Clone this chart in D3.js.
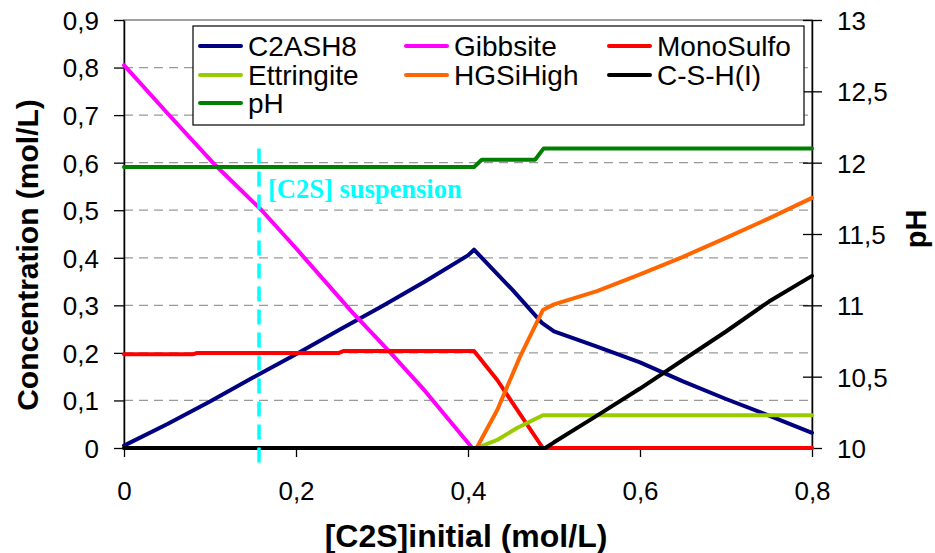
<!DOCTYPE html>
<html><head><meta charset="utf-8">
<script src="https://cdn.jsdelivr.net/npm/d3@7"></script>
<style>
body{margin:0;background:#fff}
text{font-family:"Liberation Sans",Arial,sans-serif}
</style></head>
<body><svg id="c" width="935" height="553"></svg>
<script>
// ---- data ----
const c2ashX = [0,0.05,0.1,0.15,0.2,0.25,0.3,0.35,0.4,0.407,0.452,0.486,0.5,0.55,0.6,0.65,0.7,0.75,0.8];
const c2ashY = [0.005,0.05,0.098,0.148,0.197,0.248,0.298,0.35,0.405,0.417,0.332,0.263,0.245,0.213,0.18,0.14,0.103,0.068,0.032];
const gibbX = [0,0.05,0.106,0.16,0.2,0.266,0.306,0.35,0.405,0.8];
const gibbY = [0.805,0.705,0.595,0.5,0.42,0.284,0.208,0.12,0,0];
const monoX = [0,0.08,0.085,0.25,0.255,0.407,0.434,0.487,0.8];
const monoY = [0.197,0.197,0.2,0.2,0.204,0.204,0.143,0,0];
const ettrX = [0,0.41,0.434,0.457,0.487,0.8];
const ettrY = [0,0,0.017,0.042,0.069,0.069];
const hgsX = [0,0.41,0.434,0.46,0.487,0.5,0.55,0.6,0.65,0.7,0.75,0.8];
const hgsY = [0,0,0.08,0.19,0.29,0.302,0.33,0.365,0.402,0.442,0.483,0.526];
const cshX = [0,0.49,0.5,0.55,0.6,0.65,0.7,0.75,0.8];
const cshY = [0,0,0.012,0.068,0.125,0.185,0.245,0.308,0.362];
const phX = [0,0.407,0.416,0.478,0.488,0.8];
const phY = [11.97,11.97,12.02,12.02,12.1,12.1];
const seriesNames = ["C2ASH8","Gibbsite","MonoSulfo","Ettringite","HGSiHigh","C-S-H(I)","pH"];
const seriesColors = ["#000080","#FF00FF","#FF0000","#99CC00","#FF6600","#000000","#008000"];
const leftTicks = [0,0.1,0.2,0.3,0.4,0.5,0.6,0.7,0.8,0.9];
const rightTicks = [10,10.5,11,11.5,12,12.5,13];
const xTicks = [0,0.2,0.4,0.6,0.8];
const suspensionX = 0.157;
const suspensionLabel = "[C2S] suspension";

// ---- layout ----
const svg = d3.select("#c");
const L=124,R=812,T=20,B=448;
const x = d3.scaleLinear([0,0.8],[L,R]);
const y = d3.scaleLinear([0,0.9],[B,T]);
const yR = d3.scaleLinear([10,13],[B,T]);
const fmt = d => d===0 ? "0" : String(+d.toFixed(1)).replace(".",",");

// plot border (grey)
svg.append("rect").attr("x",L).attr("y",T).attr("width",R-L).attr("height",B-T)
  .attr("fill","none").attr("stroke","#808080").attr("stroke-width",1.5);

// grid
svg.append("g").selectAll("line").data(leftTicks.filter(d=>d>0&&d<0.9)).join("line")
  .attr("x1",L).attr("x2",R).attr("y1",d=>y(d)).attr("y2",d=>y(d))
  .attr("stroke","#999").attr("stroke-width",1.2).attr("stroke-dasharray","9,6");

// axes
const tickFont = 26;
const gl = svg.append("g").attr("transform",`translate(${L},0)`)
  .call(d3.axisLeft(y).tickValues(leftTicks).tickSize(10).tickSizeOuter(0).tickFormat(fmt));
const gr = svg.append("g").attr("transform",`translate(${R},0)`)
  .call(d3.axisRight(yR).tickValues(rightTicks).tickSize(10).tickSizeOuter(0).tickFormat(fmt));
gr.selectAll(".tick line").attr("x1",-9);
const gb = svg.append("g").attr("transform",`translate(0,${B})`)
  .call(d3.axisBottom(x).tickValues(xTicks).tickSize(9).tickSizeOuter(0).tickFormat(fmt));
[gl,gr,gb].forEach(g=>{
  g.select(".domain").attr("stroke","#000").attr("stroke-width",1.5);
  g.selectAll(".tick line").attr("stroke","#000").attr("stroke-width",1.3);
  g.selectAll(".tick text").attr("font-size",tickFont).attr("fill","#000")
    .style("font-family",'"Liberation Sans",Arial,sans-serif');
});
gl.selectAll(".tick text").attr("x",-25).attr("dy","0.36em");
gr.selectAll(".tick text").attr("x",25).attr("dy","0.36em");
gb.selectAll(".tick text").attr("y",52).attr("dy",0);

// series
const lineGen = d3.line().x(d=>x(d[0])).y(d=>d[2]==="R"?yR(d[1]):y(d[1]));
const seriesData = [
  d3.zip(c2ashX,c2ashY), d3.zip(gibbX,gibbY), d3.zip(monoX,monoY),
  d3.zip(ettrX,ettrY), d3.zip(hgsX,hgsY), d3.zip(cshX,cshY),
  d3.zip(phX,phY).map(p=>[p[0],p[1],"R"])
];
svg.append("g").selectAll("path").data(seriesData).join("path")
  .attr("d",lineGen).attr("fill","none")
  .attr("stroke",(d,i)=>seriesColors[i]).attr("stroke-width",4)
  .attr("stroke-linejoin","round").attr("stroke-linecap","round");

// suspension marker
svg.append("line").attr("x1",x(suspensionX)).attr("x2",x(suspensionX))
  .attr("y1",y(0.63)).attr("y2",y(-0.046))
  .attr("stroke","#00FFFF").attr("stroke-width",3.5).attr("stroke-dasharray","15,8");
svg.append("text").attr("x",x(suspensionX)+9).attr("y",198)
  .attr("fill","#00FFFF").attr("font-size",26.5).attr("font-weight","bold")
  .style("font-family",'"Liberation Serif","Times New Roman",serif')
  .text(suspensionLabel);

// legend
const lg = svg.append("g");
lg.append("rect").attr("x",193).attr("y",26).attr("width",611).attr("height",99)
  .attr("fill","#fff").attr("stroke","#000").attr("stroke-width",1.2);
const colX = [200,406,609], rowY=[46,75,103];
seriesNames.forEach((n,i)=>{
  const cx = colX[i%3], cy=rowY[Math.floor(i/3)];
  lg.append("line").attr("x1",cx).attr("x2",cx+41).attr("y1",cy).attr("y2",cy)
    .attr("stroke",seriesColors[i]).attr("stroke-width",4).attr("stroke-linecap","round");
  lg.append("text").attr("x",cx+48).attr("y",cy).attr("dy","0.36em")
    .attr("font-size",28).attr("fill","#000").text(n);
});

// titles
svg.append("text").attr("transform",`translate(38,255) rotate(-90)`)
  .attr("text-anchor","middle").attr("font-size",30).attr("font-weight","bold")
  .text("Concentration (mol/L)");
svg.append("text").attr("x",466).attr("y",547)
  .attr("text-anchor","middle").attr("font-size",32).attr("font-weight","bold")
  .text("[C2S]initial (mol/L)");
svg.append("text").attr("transform",`translate(926,229) rotate(-90)`)
  .attr("text-anchor","middle").attr("font-size",29).attr("font-weight","bold")
  .text("pH");
</script></body></html>
